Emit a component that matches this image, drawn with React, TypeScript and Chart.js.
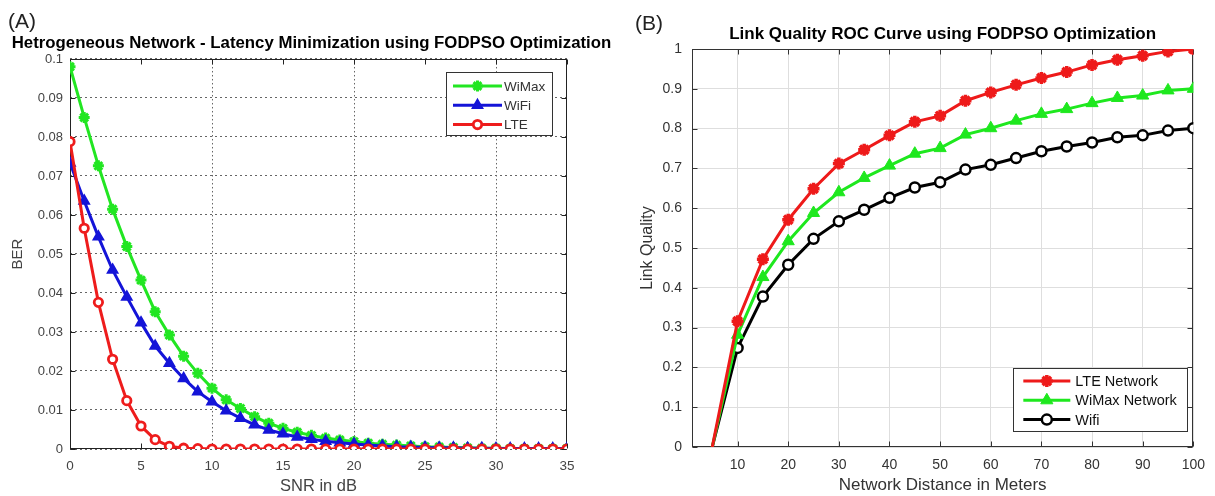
import React, { useEffect, useRef } from "react";
import { Chart, registerables } from "chart.js";

Chart.register(...registerables);

// ---------- Panel (A) data ----------
const SNR_DB = [0, 1, 2, 3, 4, 5, 6, 7, 8, 9, 10, 11, 12, 13, 14, 15, 16, 17, 18, 19, 20, 21, 22, 23, 24, 25, 26, 27, 28, 29, 30, 31, 32, 33, 34, 35];
const BER_WIMAX = [0.098, 0.085, 0.0726, 0.0615, 0.0519, 0.0433, 0.0352, 0.0292, 0.0238, 0.0194, 0.0156, 0.0126, 0.0104, 0.0083, 0.0066, 0.0053, 0.0043, 0.0035, 0.0028, 0.0023, 0.0019, 0.0015, 0.0012, 0.001, 0.0008, 0.0006, 0.0005, 0.0004, 0.0003, 0.0002, 0.0002, 0.0001, 0.0001, 0.0001, 0.0001, 0.0001];
const BER_WIFI = [0.0733, 0.0636, 0.0544, 0.0459, 0.039, 0.0324, 0.0264, 0.022, 0.0181, 0.0147, 0.0121, 0.0098, 0.0079, 0.0062, 0.0049, 0.0039, 0.0031, 0.0025, 0.002, 0.0016, 0.0013, 0.001, 0.0008, 0.0006, 0.0005, 0.0004, 0.0003, 0.0003, 0.0002, 0.0002, 0.0001, 0.0001, 0.0001, 0.0001, 0.0001, 0.0001];
const BER_LTE = [0.0788, 0.0566, 0.0376, 0.023, 0.0124, 0.0059, 0.0024, 0.0007, 0.0002, 0.0001, 0, 0, 0, 0, 0, 0, 0, 0, 0, 0, 0, 0, 0, 0, 0, 0, 0, 0, 0, 0, 0, 0, 0, 0, 0, 0];
const SNR_TICKS = [0, 5, 10, 15, 20, 25, 30, 35];
const SNR_TICK_LABELS = ["0", "5", "10", "15", "20", "25", "30", "35"];
const BER_TICKS = [0, 0.01, 0.02, 0.03, 0.04, 0.05, 0.06, 0.07, 0.08, 0.09, 0.1];
const BER_TICK_LABELS = ["0", "0.01", "0.02", "0.03", "0.04", "0.05", "0.06", "0.07", "0.08", "0.09", "0.1"];
const SNR_GRID_TICKS = [10, 20, 30];

// ---------- Panel (B) data ----------
const DIST_M = [5, 10, 15, 20, 25, 30, 35, 40, 45, 50, 55, 60, 65, 70, 75, 80, 85, 90, 95, 100];
const LQ_LTE = [0, 0.316, 0.472, 0.571, 0.649, 0.712, 0.747, 0.783, 0.817, 0.832, 0.87, 0.891, 0.91, 0.927, 0.942, 0.96, 0.973, 0.983, 0.994, 1.0];
const LQ_WIMAX = [0, 0.282, 0.427, 0.517, 0.588, 0.64, 0.676, 0.707, 0.737, 0.751, 0.785, 0.801, 0.82, 0.837, 0.849, 0.864, 0.877, 0.883, 0.896, 0.9];
const LQ_WIFI = [0, 0.249, 0.378, 0.458, 0.523, 0.567, 0.596, 0.626, 0.652, 0.665, 0.697, 0.709, 0.726, 0.743, 0.755, 0.765, 0.778, 0.783, 0.795, 0.801];
const DIST_TICKS = [10, 20, 30, 40, 50, 60, 70, 80, 90, 100];
const DIST_TICK_LABELS = ["10", "20", "30", "40", "50", "60", "70", "80", "90", "100"];
const LQ_TICKS = [0, 0.1, 0.2, 0.3, 0.4, 0.5, 0.6, 0.7, 0.8, 0.9, 1];
const LQ_TICK_LABELS = ["0", "0.1", "0.2", "0.3", "0.4", "0.5", "0.6", "0.7", "0.8", "0.9", "1"];

const FONT = '"Liberation Sans", Arial, Helvetica, sans-serif';

function drawMarker(ctx: CanvasRenderingContext2D, style: string, x: number, y: number, r: number, stroke: string, fill: string, lw: number) {
  ctx.save();
  ctx.lineWidth = lw;
  ctx.strokeStyle = stroke;
  ctx.fillStyle = fill;
  ctx.beginPath();
  if (style === "circle") {
    ctx.arc(x, y, r, 0, Math.PI * 2);
    ctx.fill();
    ctx.stroke();
  } else if (style === "triangle") {
    let rad = 0;
    ctx.moveTo(x + Math.sin(rad) * r, y - Math.cos(rad) * r);
    rad += (2 * Math.PI) / 3;
    ctx.lineTo(x + Math.sin(rad) * r, y - Math.cos(rad) * r);
    rad += (2 * Math.PI) / 3;
    ctx.lineTo(x + Math.sin(rad) * r, y - Math.cos(rad) * r);
    ctx.closePath();
    ctx.fill();
    ctx.stroke();
  } else if (style === "star") {
    for (let k = 0; k < 4; k++) {
      const a = (k * Math.PI) / 4;
      ctx.moveTo(x + Math.cos(a) * r, y + Math.sin(a) * r);
      ctx.lineTo(x - Math.cos(a) * r, y - Math.sin(a) * r);
    }
    ctx.stroke();
  }
  ctx.restore();
}

const framePlugin = {
  id: "frame",
  beforeDatasetsDraw(chart: any, _args: any, opts: any) {
    const { ctx, chartArea: a, scales } = chart;
    ctx.save();
    ctx.strokeStyle = opts.color;
    ctx.lineWidth = 1;
    const L = Math.round(a.left) + 0.5;
    const R = Math.round(a.right) - 0.5;
    const T = Math.round(a.top) + 0.5;
    const B = Math.round(a.bottom) - 0.5;
    ctx.strokeRect(L, T, R - L, B - T);
    const len = opts.tickLen;
    ctx.beginPath();
    scales.x.ticks.forEach((t: any) => {
      const px = Math.round(scales.x.getPixelForValue(t.value)) + 0.5;
      ctx.moveTo(px, B);
      ctx.lineTo(px, B - len);
      ctx.moveTo(px, T);
      ctx.lineTo(px, T + len);
    });
    scales.y.ticks.forEach((t: any) => {
      const py = Math.round(scales.y.getPixelForValue(t.value)) + 0.5;
      ctx.moveTo(L, py);
      ctx.lineTo(L + len, py);
      ctx.moveTo(R, py);
      ctx.lineTo(R - len, py);
    });
    ctx.stroke();
    ctx.restore();
  },
};

const boxLegendPlugin = {
  id: "boxLegend",
  afterDatasetsDraw(chart: any, _args: any, opts: any) {
    const { ctx, chartArea: a } = chart;
    const w = opts.width;
    const h = opts.height;
    const x0 = a.right - opts.dx - w;
    const y0 = opts.corner === "top" ? a.top + opts.dy : a.bottom - opts.dy - h;
    ctx.save();
    ctx.fillStyle = "#ffffff";
    ctx.fillRect(x0, y0, w, h);
    ctx.strokeStyle = opts.borderColor;
    ctx.lineWidth = 1;
    ctx.strokeRect(Math.round(x0) + 0.5, Math.round(y0) + 0.5, Math.round(w), Math.round(h));
    ctx.font = `${opts.fontSize}px ${FONT}`;
    ctx.textBaseline = "middle";
    ctx.textAlign = "left";
    opts.order.forEach((di: number, row: number) => {
      const ds = chart.data.datasets[di];
      const y = y0 + opts.firstRow + row * opts.rowGap;
      ctx.strokeStyle = ds.borderColor;
      ctx.lineWidth = ds.borderWidth;
      ctx.beginPath();
      ctx.moveTo(x0 + opts.lineStart, y);
      ctx.lineTo(x0 + opts.lineEnd, y);
      ctx.stroke();
      const r = Array.isArray(ds.pointRadius) ? ds.pointRadius[ds.pointRadius.length - 1] : ds.pointRadius;
      drawMarker(ctx, ds.pointStyle, x0 + (opts.lineStart + opts.lineEnd) / 2, y, r, ds.pointBorderColor, ds.pointBackgroundColor, ds.pointBorderWidth);
      ctx.fillStyle = opts.textColor;
      ctx.fillText(ds.label, x0 + opts.textX, y + 1);
    });
    ctx.restore();
  },
};

function fixedTicks(values: number[]) {
  return (scale: any) => {
    scale.ticks = values.map((v) => ({ value: v }));
  };
}

function labelFor(values: number[], labels: string[]) {
  return (v: any) => {
    const i = values.findIndex((t) => Math.abs(t - Number(v)) < 1e-9);
    return i >= 0 ? labels[i] : "";
  };
}

function spacerAxis(width: number): any {
  return {
    type: "linear",
    position: "right",
    display: true,
    min: 0,
    max: 1,
    ticks: { display: false },
    grid: { display: false, drawTicks: false },
    border: { display: false },
    afterFit: (s: any) => {
      s.width = width;
    },
  };
}

function configA(): any {
  return {
    type: "line",
    data: {
      datasets: [
        {
          label: "WiMax",
          data: SNR_DB.map((x, i) => ({ x, y: BER_WIMAX[i] })),
          borderColor: "#22e622",
          backgroundColor: "#22e622",
          borderWidth: 3,
          pointStyle: "star",
          pointRadius: 5.5,
          pointBorderColor: "#22e622",
          pointBackgroundColor: "#22e622",
          pointBorderWidth: 3,
          order: 2,
        },
        {
          label: "WiFi",
          data: SNR_DB.map((x, i) => ({ x, y: BER_WIFI[i] })),
          borderColor: "#1414d8",
          backgroundColor: "#1414d8",
          borderWidth: 3,
          pointStyle: "triangle",
          pointRadius: 6,
          pointBorderColor: "#1414d8",
          pointBackgroundColor: "#1414d8",
          pointBorderWidth: 1.5,
          order: 1,
        },
        {
          label: "LTE",
          data: SNR_DB.map((x, i) => ({ x, y: BER_LTE[i] })),
          borderColor: "#ee1c1c",
          backgroundColor: "#ee1c1c",
          borderWidth: 3,
          pointStyle: "circle",
          pointRadius: 4.2,
          pointBorderColor: "#ee1c1c",
          pointBackgroundColor: "#ffffff",
          pointBorderWidth: 2.8,
          order: 0,
        },
      ],
    },
    options: {
      responsive: false,
      animation: false,
      layout: { padding: 0 },
      elements: { line: { tension: 0 } },
      plugins: {
        legend: { display: false },
        tooltip: { enabled: false },
        title: {
          display: true,
          text: "Hetrogeneous Network - Latency Minimization using FODPSO Optimization",
          color: "#000",
          font: { family: FONT, size: 16.8, weight: "bold" },
          padding: { top: 32.9, bottom: 5.9 },
        },
        frame: { color: "#222", tickLen: 5 },
        boxLegend: {
          corner: "top",
          dx: 15,
          dy: 13,
          width: 106,
          height: 63,
          firstRow: 14,
          rowGap: 19.3,
          lineStart: 7,
          lineEnd: 56,
          textX: 58,
          fontSize: 13.5,
          textColor: "#333",
          borderColor: "#333",
          order: [0, 1, 2],
        },
      },
      scales: {
        x: {
          type: "linear",
          min: 0,
          max: 35,
          afterBuildTicks: fixedTicks(SNR_TICKS),
          afterFit: (s: any) => {
            s.height = 47;
          },
          ticks: {
            padding: 9,
            color: "#444",
            autoSkip: false,
            maxRotation: 0,
            font: { family: FONT, size: 13.5 },
            callback: labelFor(SNR_TICKS, SNR_TICK_LABELS),
          },
          grid: {
            drawTicks: false,
            lineWidth: 1,
            color: (c: any) => (c.tick && SNR_GRID_TICKS.includes(c.tick.value) ? "#666" : "rgba(0,0,0,0)"),
          },
          border: { display: false, dash: [1.5, 2.5] },
          title: {
            display: true,
            text: "SNR in dB",
            color: "#444",
            font: { family: FONT, size: 16.5 },
            padding: { top: 0, bottom: 0 },
          },
        },
        y: {
          type: "linear",
          min: 0,
          max: 0.1,
          afterBuildTicks: fixedTicks(BER_TICKS),
          afterFit: (s: any) => {
            s.width = 70;
          },
          ticks: {
            padding: 7,
            color: "#444",
            autoSkip: false,
            font: { family: FONT, size: 13 },
            callback: labelFor(BER_TICKS, BER_TICK_LABELS),
          },
          grid: {
            drawTicks: false,
            lineWidth: 1,
            color: "#666",
          },
          border: { display: false, dash: [2, 3] },
          title: {
            display: true,
            text: "BER",
            color: "#444",
            font: { family: FONT, size: 15 },
            padding: { top: 9, bottom: 0 },
          },
        },
        yR: spacerAxis(56),
      },
    },
    plugins: [framePlugin, boxLegendPlugin],
  };
}

function configB(): any {
  const r = (v: number) => DIST_M.map((_, i) => (i === 0 ? 0 : v));
  return {
    type: "line",
    data: {
      datasets: [
        {
          label: "LTE Network",
          data: DIST_M.map((x, i) => ({ x, y: LQ_LTE[i] })),
          borderColor: "#ee1a1a",
          backgroundColor: "#ee1a1a",
          borderWidth: 3,
          pointStyle: "star",
          pointRadius: r(6),
          pointBorderColor: "#ee1a1a",
          pointBackgroundColor: "#ee1a1a",
          pointBorderWidth: 3.5,
        },
        {
          label: "WiMax Network",
          data: DIST_M.map((x, i) => ({ x, y: LQ_WIMAX[i] })),
          borderColor: "#1ee81e",
          backgroundColor: "#1ee81e",
          borderWidth: 3,
          pointStyle: "triangle",
          pointRadius: r(7),
          pointBorderColor: "#1ee81e",
          pointBackgroundColor: "#1ee81e",
          pointBorderWidth: 1,
        },
        {
          label: "Wifi",
          data: DIST_M.map((x, i) => ({ x, y: LQ_WIFI[i] })),
          borderColor: "#000000",
          backgroundColor: "#000000",
          borderWidth: 3,
          pointStyle: "circle",
          pointRadius: r(5),
          pointBorderColor: "#000000",
          pointBackgroundColor: "#ffffff",
          pointBorderWidth: 2.5,
        },
      ],
    },
    options: {
      responsive: false,
      animation: false,
      layout: { padding: { left: 0, right: 19, top: 0, bottom: 0 } },
      elements: { line: { tension: 0 } },
      plugins: {
        legend: { display: false },
        tooltip: { enabled: false },
        title: {
          display: true,
          fullSize: false,
          text: "Link Quality ROC Curve using FODPSO Optimization",
          color: "#000",
          font: { family: FONT, size: 17, weight: "bold" },
          padding: { top: 23.8, bottom: 4.8 },
        },
        frame: { color: "#333", tickLen: 5 },
        boxLegend: {
          corner: "bottom",
          dx: 6,
          dy: 16,
          width: 174,
          height: 63,
          firstRow: 13,
          rowGap: 19.3,
          lineStart: 10,
          lineEnd: 57,
          textX: 62,
          fontSize: 14.5,
          textColor: "#111",
          borderColor: "#333",
          order: [0, 1, 2],
        },
      },
      scales: {
        x: {
          type: "linear",
          min: 1,
          max: 100,
          afterBuildTicks: fixedTicks(DIST_TICKS),
          afterFit: (s: any) => {
            s.height = 49;
          },
          ticks: {
            padding: 10,
            color: "#333",
            autoSkip: false,
            maxRotation: 0,
            font: { family: FONT, size: 14 },
            callback: labelFor(DIST_TICKS, DIST_TICK_LABELS),
          },
          grid: { drawTicks: false, lineWidth: 1, color: "#dedede" },
          border: { display: false },
          title: {
            display: true,
            text: "Network Distance in Meters",
            color: "#333",
            font: { family: FONT, size: 17 },
            padding: { top: 0, bottom: 0.8 },
          },
        },
        y: {
          type: "linear",
          min: 0,
          max: 1,
          afterBuildTicks: fixedTicks(LQ_TICKS),
          afterFit: (s: any) => {
            s.width = 77;
          },
          ticks: {
            padding: 10,
            color: "#333",
            autoSkip: false,
            font: { family: FONT, size: 14 },
            callback: labelFor(LQ_TICKS, LQ_TICK_LABELS),
          },
          grid: { drawTicks: false, lineWidth: 1, color: "#dedede" },
          border: { display: false },
          title: {
            display: true,
            text: "Link Quality",
            color: "#333",
            font: { family: FONT, size: 16 },
            padding: { top: 23.4, bottom: 0 },
          },
        },
      },
    },
    plugins: [framePlugin, boxLegendPlugin],
  };
}

function ChartCanvas({ width, height, make }: { width: number; height: number; make: () => any }) {
  const ref = useRef<HTMLCanvasElement | null>(null);
  useEffect(() => {
    if (!ref.current) return;
    const chart = new Chart(ref.current, make());
    return () => chart.destroy();
  }, []);
  return <canvas ref={ref} width={width} height={height} style={{ display: "block", width, height }} />;
}

export default function App() {
  return (
    <div style={{ position: "absolute", left: 0, top: 0, width: 1215, height: 496, background: "#fff", overflow: "hidden" }}>
      <div style={{ position: "absolute", left: 0, top: 0 }}>
        <ChartCanvas width={623} height={496} make={configA} />
      </div>
      <div style={{ position: "absolute", left: 615, top: 0 }}>
        <ChartCanvas width={600} height={496} make={configB} />
      </div>
      <div style={{ position: "absolute", left: 8, top: 9, fontFamily: FONT, fontSize: 21, color: "#222", lineHeight: "24px" }}>(A)</div>
      <div style={{ position: "absolute", left: 635, top: 11, fontFamily: FONT, fontSize: 21, color: "#222", lineHeight: "24px" }}>(B)</div>
    </div>
  );
}
